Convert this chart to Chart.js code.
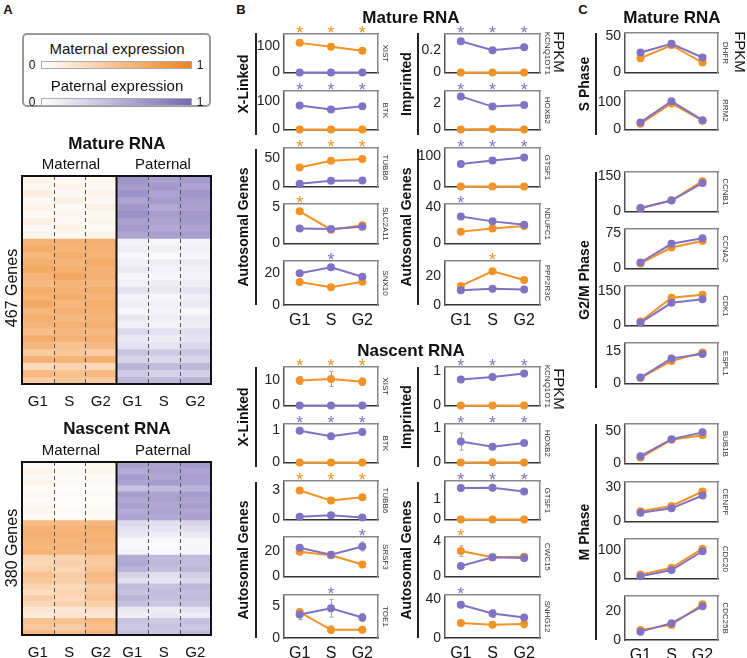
<!DOCTYPE html>
<html>
<head>
<meta charset="utf-8">
<title>Allelic expression across the cell cycle</title>
<script src="https://cdn.jsdelivr.net/npm/chart.js@4.4.1/dist/chart.umd.min.js"></script>
<style>
  body { margin: 0; background: #fff; }
  #fig { position: relative; width: 747px; height: 658px; overflow: hidden;
         font-family: "Liberation Sans", Arial, sans-serif; color: #111; }
  #fig canvas { position: absolute; }
  .t { position: absolute; white-space: nowrap; line-height: 1; }
  .vl { position: absolute; width: 2px; background: #222; }
  .legend { position: absolute; left: 22px; top: 33px; width: 185px; height: 70px;
            border: 2px solid #999; border-radius: 5px; }
  .bar { position: absolute; left: 41px; width: 149px; height: 6px; border: 1px solid #aaa; }
</style>
</head>
<body>
<div id="fig">
  <div class="legend"></div>
  <div class="bar" style="top:61px; background: linear-gradient(to right, #fff, rgb(240,130,30));"></div>
  <div class="bar" style="top:98px; background: linear-gradient(to right, #fff, rgb(118,104,178));"></div>
</div>
<script>
// ---------- data ----------
var stages = ['G1', 'S', 'G2'];
var heatCols = ['G1', 'S', 'G2', 'G1', 'S', 'G2'];

// heatmap bands (genes per band, top to bottom) and scaled expression 0..1
var matureBands = [16,15,16,15,16,15,16,15,16,15,16,15,16,15,16,15,16,15,16,15,16,15,16,15,16,15,16,16,16,16];
var matureMatG1 = [0.10,0.06,0.14,0.05,0.09,0.04,0.12,0.05,0.08,0.60,0.66,0.58,0.64,0.68,0.60,0.55,0.66,0.62,0.70,0.58,0.64,0.60,0.52,0.66,0.58,0.42,0.62,0.30,0.55,0.40];
var matureMatS  = [0.06,0.10,0.05,0.12,0.04,0.08,0.06,0.10,0.05,0.62,0.60,0.66,0.58,0.64,0.70,0.60,0.62,0.66,0.58,0.64,0.55,0.62,0.58,0.60,0.50,0.45,0.60,0.35,0.50,0.45];
var matureMatG2 = [0.08,0.05,0.10,0.06,0.12,0.05,0.08,0.04,0.10,0.64,0.62,0.60,0.68,0.62,0.64,0.58,0.66,0.60,0.66,0.62,0.60,0.64,0.56,0.62,0.55,0.40,0.64,0.32,0.56,0.42];
var maturePatG1 = [0.70,0.64,0.72,0.60,0.68,0.74,0.62,0.66,0.58,0.08,0.12,0.05,0.10,0.15,0.06,0.10,0.20,0.08,0.12,0.05,0.15,0.10,0.25,0.15,0.20,0.40,0.30,0.50,0.35,0.48];
var maturePatS  = [0.62,0.68,0.60,0.66,0.58,0.64,0.60,0.56,0.62,0.06,0.10,0.04,0.12,0.08,0.05,0.12,0.15,0.06,0.10,0.08,0.12,0.08,0.20,0.12,0.18,0.35,0.25,0.45,0.30,0.45];
var maturePatG2 = [0.66,0.60,0.70,0.64,0.62,0.68,0.66,0.60,0.64,0.08,0.10,0.06,0.14,0.10,0.08,0.12,0.18,0.10,0.15,0.06,0.14,0.12,0.22,0.18,0.25,0.38,0.28,0.48,0.32,0.50];

var nascentBands = [13,13,12,13,13,12,13,13,12,13,13,12,13,13,12,13,13,12,13,13,12,13,13,12,13,13,12,13,13,12];
var nascentMatG1 = [0.05,0.10,0.04,0.08,0.03,0.06,0.02,0.05,0.08,0.04,0.55,0.62,0.64,0.60,0.58,0.62,0.35,0.32,0.38,0.50,0.45,0.35,0.28,0.40,0.32,0.20,0.15,0.50,0.45,0.55];
var nascentMatS  = [0.04,0.06,0.03,0.05,0.02,0.04,0.02,0.03,0.05,0.03,0.55,0.60,0.62,0.58,0.60,0.58,0.35,0.38,0.32,0.40,0.38,0.30,0.35,0.30,0.38,0.18,0.22,0.48,0.40,0.50];
var nascentMatG2 = [0.06,0.08,0.04,0.05,0.03,0.05,0.03,0.04,0.06,0.04,0.58,0.64,0.60,0.62,0.58,0.60,0.45,0.42,0.48,0.55,0.52,0.40,0.45,0.50,0.38,0.25,0.20,0.55,0.50,0.58];
var nascentPatG1 = [0.62,0.55,0.66,0.60,0.40,0.64,0.58,0.62,0.55,0.60,0.25,0.20,0.15,0.06,0.04,0.08,0.55,0.58,0.50,0.30,0.22,0.45,0.40,0.50,0.42,0.15,0.10,0.40,0.35,0.42];
var nascentPatS  = [0.60,0.62,0.58,0.66,0.45,0.60,0.62,0.58,0.60,0.56,0.22,0.18,0.12,0.04,0.03,0.05,0.45,0.48,0.42,0.22,0.18,0.40,0.45,0.42,0.38,0.12,0.15,0.35,0.40,0.38];
var nascentPatG2 = [0.66,0.60,0.64,0.62,0.50,0.66,0.60,0.64,0.58,0.62,0.28,0.22,0.15,0.06,0.05,0.06,0.45,0.42,0.48,0.32,0.25,0.48,0.42,0.45,0.40,0.18,0.12,0.42,0.38,0.45];

// B, mature RNA (FPKM; maternal / paternal)
var bmXIST_mat = [114, 99, 84],       bmXIST_pat = [0, 0, 0];
var bmBTK_mat = [0, 0, 0],            bmBTK_pat = [84, 70, 82];
var bmTUBB6_mat = [33, 45, 48],       bmTUBB6_pat = [5, 10, 10.5];
var bmSLC2A11_mat = [4.4, 1.9, 2.5],  bmSLC2A11_pat = [2.05, 2.0, 2.3];
var bmSNX10_mat = [14.5, 11.2, 14.7], bmSNX10_pat = [20, 23.8, 17.9];
var bmKCNQ1OT1_mat = [0, 0, 0],       bmKCNQ1OT1_pat = [0.28, 0.2, 0.225];
var bmHOXB2_mat = [0, 0.05, 0],       bmHOXB2_pat = [2.47, 1.71, 1.82];
var bmGTSF1_mat = [0, 0, 0],          bmGTSF1_pat = [74, 85, 95];
var bmNDUFC1_mat = [13.3, 16.9, 19.5],bmNDUFC1_pat = [30, 24.7, 21];
var bmPPP2R3C_mat = [13, 23, 17],     bmPPP2R3C_pat = [10, 11, 10.5];

// B, nascent RNA
var bnXIST_mat = [9.9, 10.5, 9.4],    bnXIST_pat = [0, 0, 0];
var bnBTK_mat = [0, 0, 0],            bnBTK_pat = [0.99, 0.82, 0.95];
var bnTUBB6_mat = [2.94, 1.94, 2.27], bnTUBB6_pat = [0.3, 0.43, 0.2];
var bnSRSF3_mat = [19.5, 16.7, 9.5],  bnSRSF3_pat = [22.6, 17.1, 23.6];
var bnTOE1_mat = [4.1, 1.3, 1.3],     bnTOE1_pat = [3.7, 4.7, 3.25];
var bnKCNQ1OT1_mat = [0, 0, 0],       bnKCNQ1OT1_pat = [0.76, 0.83, 0.93];
var bnHOXB2_mat = [0, 0.01, 0],       bnHOXB2_pat = [0.61, 0.46, 0.57];
var bnGTSF1_mat = [0, 0, 0],          bnGTSF1_pat = [1.55, 1.57, 1.38];
var bnCWC15_mat = [2.9, 2.2, 2.25],   bnCWC15_pat = [1.2, 2.2, 2.1];
var bnSNHG12_mat = [15.4, 13.6, 14.4],bnSNHG12_pat = [34, 25, 21];

// error bars (same units)
var bmSLC2A11_errM = [0.3, 0.1, 0.2], bmSLC2A11_errP = [0.25, 0.1, 0.25];
var bmKCNQ1OT1_errP = [0.02, 0.01, 0.015];
var bmNDUFC1_errP = [3, 1, 1];
var bnXIST_errM = [1.5, 3, 1.5];
var bnBTK_errP = [0.08, 0.08, 0.08];
var bnSRSF3_errM = [1.5, 1.5, 2], bnSRSF3_errP = [1.5, 2.5, 3.5];
var bnTOE1_errM = [0.3, 0.6, 0.5], bnTOE1_errP = [0.8, 1.4, 0.6];
var bnHOXB2_errP = [0.25, 0.05, 0.05];
var bnCWC15_errM = [0.6, 0.2, 0.2], bnCWC15_errP = [0.15, 0.3, 0.4];
var bnSNHG12_errM = [1.5, 2, 4], bnSNHG12_errP = [3, 4, 2];

// C, mature RNA cell-cycle genes
var cDHFR_mat = [20, 38, 14],        cDHFR_pat = [28, 40, 21];
var cRRM2_mat = [21, 94, 32],        cRRM2_pat = [26, 102, 34];
var cCCNB1_mat = [14, 48, 129],      cCCNB1_pat = [15, 47, 121];
var cCCNA2_mat = [11, 45, 59],       cCCNA2_pat = [13, 53, 65];
var cCDK1_mat = [18, 121, 134],      cCDK1_pat = [13, 99, 114];
var cESPL1_mat = [2.7, 10.6, 14.6],  cESPL1_pat = [2.8, 11.8, 13.9];
var cBUB1B_mat = [9.4, 37, 44],      cBUB1B_pat = [11.6, 38, 48.6];
var cCENPF_mat = [9, 13.7, 26.4],    cCENPF_pat = [7.7, 11.6, 22.9];
var cCDC20_mat = [14, 38, 105],      cCDC20_pat = [8.5, 30, 96];
var cCDC25B_mat = [6.9, 10.3, 24.4], cCDC25B_pat = [5.7, 11.5, 23];

// y tick labels (0 and one more) per panel
var bMatureTicks = [100, 100, 50, 5, 20, 0.2, 2, 100, 40, 20];
var bNascentTicks = [10, 1, 3, 20, 5, 1, 1, 1, 4, 40];
var cTicks = [50, 100, 150, 75, 150, 15, 50, 30, 100, 20];
// significance marks: m = maternal, p = paternal
var bMatureStars = ['mmm', 'ppp', 'mmm', 'm..', '.p.', 'ppp', 'ppp', 'ppp', 'p..', '.m.'];
var bNascentStars = ['mmm', 'ppp', 'mmm', '..p', '.p.', 'ppp', 'ppp', 'ppp', 'm..', 'p..'];

// ---------- layout ----------
var ORANGE = '#F39325', PURPLE = '#8272C4';
var colB1 = [284, 378], colB2 = [445, 540], colC = [625, 718];
var rowsBM = [[34,77],[91,134],[148,191],[204,248],[261,305]];
var rowsBN = [[367,410],[424,467],[481,524],[537,581],[595,638]];
var rowsC = [[33,77],[91,134],[172,216],[229,273],[286,330],[343,388],[424,468],[482,526],[539,583],[596,640]];

var fig = document.getElementById('fig');
var FONT = '"Liberation Sans", Arial, sans-serif';
Chart.defaults.font.family = FONT;
Chart.defaults.color = '#222';

function shade(rgb, v) {
  return 'rgb(' + rgb.map(function (c) { return Math.round(255 - (255 - c) * v); }).join(',') + ')';
}

// asterisks above significant points
var starPlugin = {
  id: 'stars',
  afterDatasetsDraw: function (chart) {
    var ctx = chart.ctx, area = chart.chartArea, x = chart.scales.x;
    ctx.save();
    ctx.font = '18px ' + FONT;
    ctx.textAlign = 'center';
    chart.data.datasets.forEach(function (ds) {
      (ds.stars || []).forEach(function (s, i) {
        if (!s) return;
        ctx.fillStyle = ds.borderColor;
        ctx.fillText('*', x.getPixelForValue(i), area.top + 5);
      });
    });
    ctx.restore();
  }
};

var errPlugin = {
  id: 'errbars',
  beforeDatasetsDraw: function (chart) {
    var ctx = chart.ctx, x = chart.scales.x, y = chart.scales.y;
    ctx.save();
    ctx.strokeStyle = '#a0a0a0';
    ctx.lineWidth = 1;
    chart.data.datasets.forEach(function (ds) {
      (ds.err || []).forEach(function (e, i) {
        if (!e) return;
        var px = Math.round(x.getPixelForValue(i)) + 0.5;
        var y1 = y.getPixelForValue(ds.data[i] - e), y2 = y.getPixelForValue(ds.data[i] + e);
        ctx.beginPath();
        ctx.moveTo(px, y1); ctx.lineTo(px, y2);
        ctx.moveTo(px - 2, y1); ctx.lineTo(px + 2, y1);
        ctx.moveTo(px - 2, y2); ctx.lineTo(px + 2, y2);
        ctx.stroke();
      });
    });
    ctx.restore();
  }
};

function starFlags(str, ch) {
  return str.split('').map(function (c) { return c === ch; });
}

function linePanel(col, row, gene, mat, pat, yMax, tick, stars, showX, errM, errP) {
  var W = col[1] - col[0], H = row[1] - row[0];
  var cv = document.createElement('canvas');
  cv.width = 40 + W + 12;
  cv.height = 14 + H + (showX ? 26 : 8);
  cv.style.left = (col[0] - 40) + 'px';
  cv.style.top = (row[0] - 14) + 'px';
  fig.appendChild(cv);
  stars = stars || '...';
  new Chart(cv, {
    type: 'line',
    data: {
      labels: stages,
      datasets: [
        { data: pat, borderColor: PURPLE, backgroundColor: PURPLE, stars: starFlags(stars, 'p'), err: errP },
        { data: mat, borderColor: ORANGE, backgroundColor: ORANGE, stars: starFlags(stars, 'm'), err: errM }
      ]
    },
    options: {
      responsive: false, animation: false, devicePixelRatio: 1,
      layout: { padding: { top: 14, bottom: showX ? 0 : 8, left: 0, right: 0 } },
      elements: {
        line: { borderWidth: 2, tension: 0 },
        point: { radius: 4, borderWidth: 0, hoverRadius: 4 }
      },
      datasets: { line: { clip: false } },
      plugins: { legend: { display: false }, tooltip: { enabled: false } },
      scales: {
        x: {
          type: 'category', position: 'bottom', offset: true,
          grid: { display: false, drawTicks: false },
          border: { color: '#333', width: 1.5 },
          ticks: { display: showX, font: { size: 16 }, color: '#111', padding: 6, maxRotation: 0 },
          afterFit: function (s) { s.height = showX ? 26 : 0; }
        },
        y: {
          min: 0, max: yMax,
          afterBuildTicks: function (s) { s.ticks = [{ value: 0 }, { value: tick }]; },
          grid: { display: false, drawTicks: false },
          border: { color: '#555', width: 1.5 },
          ticks: { font: { size: 14 }, color: '#222', padding: 4 },
          afterFit: function (s) { s.width = 40; }
        },
        x2: {
          type: 'linear', position: 'top', min: 0, max: 1,
          grid: { display: false, drawTicks: false },
          border: { color: '#888', width: 1.5 },
          ticks: { display: false },
          afterFit: function (s) { s.height = 0; }
        },
        y2: {
          type: 'linear', position: 'right', min: 0, max: 1,
          grid: { display: false, drawTicks: false },
          border: { color: '#888', width: 1.5 },
          ticks: { display: false },
          title: { display: true, text: gene, font: { size: 8 }, color: '#333', padding: 0 },
          afterFit: function (s) { s.width = 12; }
        }
      }
    },
    plugins: [errPlugin, starPlugin]
  });
}

// heatmap frame with dashed stage separators
var heatFrame = {
  id: 'heatFrame',
  afterDatasetsDraw: function (chart) {
    var ctx = chart.ctx, a = chart.chartArea, w = (a.right - a.left) / 6;
    ctx.save();
    ctx.strokeStyle = '#555';
    ctx.lineWidth = 1;
    ctx.setLineDash([4, 3]);
    [1, 2, 4, 5].forEach(function (k) {
      var x = Math.round(a.left + w * k) + 0.5;
      ctx.beginPath(); ctx.moveTo(x, a.top); ctx.lineTo(x, a.bottom); ctx.stroke();
    });
    ctx.setLineDash([]);
    ctx.strokeStyle = '#111';
    ctx.lineWidth = 2;
    ctx.beginPath();
    ctx.moveTo(a.left + w * 3, a.top); ctx.lineTo(a.left + w * 3, a.bottom);
    ctx.stroke();
    ctx.strokeRect(a.left, a.top, a.right - a.left, a.bottom - a.top);
    ctx.restore();
  }
};

function heatmap(top, height, bands, mG1, mS, mG2, pG1, pS, pG2) {
  var cv = document.createElement('canvas');
  cv.width = 222;
  cv.height = 6 + height + 26;
  cv.style.left = '0px';
  cv.style.top = (top - 6) + 'px';
  fig.appendChild(cv);
  var total = bands.reduce(function (s, v) { return s + v; }, 0);
  var OR = [240, 130, 30], PU = [118, 104, 178];
  var datasets = bands.map(function (n, j) {
    return {
      data: heatCols.map(function () { return n; }),
      backgroundColor: [shade(OR, mG1[j]), shade(OR, mS[j]), shade(OR, mG2[j]),
                        shade(PU, pG1[j]), shade(PU, pS[j]), shade(PU, pG2[j])],
      borderWidth: 0, barPercentage: 1, categoryPercentage: 1
    };
  });
  new Chart(cv, {
    type: 'bar',
    data: { labels: heatCols, datasets: datasets },
    options: {
      responsive: false, animation: false, devicePixelRatio: 1,
      layout: { padding: { left: 22, right: 11, top: 6, bottom: 0 } },
      plugins: { legend: { display: false }, tooltip: { enabled: false } },
      scales: {
        x: {
          stacked: true,
          grid: { display: false, drawTicks: false },
          border: { display: false },
          ticks: { font: { size: 15 }, color: '#111', padding: 9, maxRotation: 0 },
          afterFit: function (s) { s.height = 26; }
        },
        y: { stacked: true, display: false, reverse: true, min: 0, max: total }
      }
    },
    plugins: [heatFrame]
  });
}

heatmap(176, 208, matureBands, matureMatG1, matureMatS, matureMatG2, maturePatG1, maturePatS, maturePatG2);
heatmap(462, 173, nascentBands, nascentMatG1, nascentMatS, nascentMatG2, nascentPatG1, nascentPatS, nascentPatG2);

// B mature
linePanel(colB1, rowsBM[0], 'XIST', bmXIST_mat, bmXIST_pat, 148, bMatureTicks[0], bMatureStars[0], false);
linePanel(colB1, rowsBM[1], 'BTK', bmBTK_mat, bmBTK_pat, 135, bMatureTicks[1], bMatureStars[1], false);
linePanel(colB1, rowsBM[2], 'TUBB6', bmTUBB6_mat, bmTUBB6_pat, 67, bMatureTicks[2], bMatureStars[2], false);
linePanel(colB1, rowsBM[3], 'SLC2A11', bmSLC2A11_mat, bmSLC2A11_pat, 5.4, bMatureTicks[3], bMatureStars[3], false, bmSLC2A11_errM, bmSLC2A11_errP);
linePanel(colB1, rowsBM[4], 'SNX10', bmSNX10_mat, bmSNX10_pat, 27.8, bMatureTicks[4], bMatureStars[4], true);
linePanel(colB2, rowsBM[0], 'KCNQ1OT1', bmKCNQ1OT1_mat, bmKCNQ1OT1_pat, 0.344, bMatureTicks[5], bMatureStars[5], false, null, bmKCNQ1OT1_errP);
linePanel(colB2, rowsBM[1], 'HOXB2', bmHOXB2_mat, bmHOXB2_pat, 2.87, bMatureTicks[6], bMatureStars[6], false);
linePanel(colB2, rowsBM[2], 'GTSF1', bmGTSF1_mat, bmGTSF1_pat, 126, bMatureTicks[7], bMatureStars[7], false);
linePanel(colB2, rowsBM[3], 'NDUFC1', bmNDUFC1_mat, bmNDUFC1_pat, 44, bMatureTicks[8], bMatureStars[8], false, null, bmNDUFC1_errP);
linePanel(colB2, rowsBM[4], 'PPP2R3C', bmPPP2R3C_mat, bmPPP2R3C_pat, 30, bMatureTicks[9], bMatureStars[9], true);

// B nascent
linePanel(colB1, rowsBN[0], 'XIST', bnXIST_mat, bnXIST_pat, 15.2, bNascentTicks[0], bNascentStars[0], false, bnXIST_errM);
linePanel(colB1, rowsBN[1], 'BTK', bnBTK_mat, bnBTK_pat, 1.2, bNascentTicks[1], bNascentStars[1], false, null, bnBTK_errP);
linePanel(colB1, rowsBN[2], 'TUBB6', bnTUBB6_mat, bnTUBB6_pat, 3.9, bNascentTicks[2], bNascentStars[2], false);
linePanel(colB1, rowsBN[3], 'SRSF3', bnSRSF3_mat, bnSRSF3_pat, 31, bNascentTicks[3], bNascentStars[3], false, bnSRSF3_errM, bnSRSF3_errP);
linePanel(colB1, rowsBN[4], 'TOE1', bnTOE1_mat, bnTOE1_pat, 6.8, bNascentTicks[4], bNascentStars[4], true, bnTOE1_errM, bnTOE1_errP);
linePanel(colB2, rowsBN[0], 'KCNQ1OT1', bnKCNQ1OT1_mat, bnKCNQ1OT1_pat, 1.12, bNascentTicks[5], bNascentStars[5], false);
linePanel(colB2, rowsBN[1], 'HOXB2', bnHOXB2_mat, bnHOXB2_pat, 1.12, bNascentTicks[6], bNascentStars[6], false, null, bnHOXB2_errP);
linePanel(colB2, rowsBN[2], 'GTSF1', bnGTSF1_mat, bnGTSF1_pat, 1.9, bNascentTicks[7], bNascentStars[7], false);
linePanel(colB2, rowsBN[3], 'CWC15', bnCWC15_mat, bnCWC15_pat, 4.5, bNascentTicks[8], bNascentStars[8], false, bnCWC15_errM, bnCWC15_errP);
linePanel(colB2, rowsBN[4], 'SNHG12', bnSNHG12_mat, bnSNHG12_pat, 44, bNascentTicks[9], bNascentStars[9], true, bnSNHG12_errM, bnSNHG12_errP);

// C
linePanel(colC, rowsC[0], 'DHFR', cDHFR_mat, cDHFR_pat, 55, cTicks[0], null, false);
linePanel(colC, rowsC[1], 'RRM2', cRRM2_mat, cRRM2_pat, 139, cTicks[1], null, false);
linePanel(colC, rowsC[2], 'CCNB1', cCCNB1_mat, cCCNB1_pat, 168, cTicks[2], null, false);
linePanel(colC, rowsC[3], 'CCNA2', cCCNA2_mat, cCCNA2_pat, 84.6, cTicks[3], null, false);
linePanel(colC, rowsC[4], 'CDK1', cCDK1_mat, cCDK1_pat, 172, cTicks[4], null, false);
linePanel(colC, rowsC[5], 'ESPL1', cESPL1_mat, cESPL1_pat, 19, cTicks[5], null, false);
linePanel(colC, rowsC[6], 'BUB1B', cBUB1B_mat, cBUB1B_pat, 61.6, cTicks[6], null, false);
linePanel(colC, rowsC[7], 'CENPF', cCENPF_mat, cCENPF_pat, 34.7, cTicks[7], null, false);
linePanel(colC, rowsC[8], 'CDC20', cCDC20_mat, cCDC20_pat, 139, cTicks[8], null, false);
linePanel(colC, rowsC[9], 'CDC25B', cCDC25B_mat, cCDC25B_pat, 30, cTicks[9], null, true);

// ---------- text and brackets ----------
// [text, centre x, centre y, size, bold, rotation]
var labels = [
  ['A', 8, 9, 13, 1, 0], ['B', 241, 9, 13, 1, 0], ['C', 583, 9, 13, 1, 0],
  ['Maternal expression', 117, 48, 15, 0, 0], ['0', 32, 65, 12, 0, 0], ['1', 200, 65, 12, 0, 0],
  ['Paternal expression', 117, 85, 15, 0, 0], ['0', 32, 102, 12, 0, 0], ['1', 200, 102, 12, 0, 0],
  ['Mature RNA', 117, 143, 17, 1, 0], ['Maternal', 71, 163, 15, 0, 0], ['Paternal', 163, 163, 15, 0, 0],
  ['467 Genes', 12, 288, 16, 0, -90],
  ['Nascent RNA', 117, 428, 17, 1, 0], ['Maternal', 71, 449, 15, 0, 0], ['Paternal', 163, 449, 15, 0, 0],
  ['380 Genes', 12, 548, 16, 0, -90],
  ['Mature RNA', 411, 17, 17, 1, 0], ['Nascent RNA', 411, 350, 17, 1, 0], ['Mature RNA', 672, 17, 17, 1, 0],
  ['X-Linked', 243, 84, 14, 1, -90], ['Autosomal Genes', 243, 227, 14, 1, -90],
  ['Imprinted', 406, 84, 14, 1, -90], ['Autosomal Genes', 406, 227, 14, 1, -90],
  ['X-Linked', 243, 417, 14, 1, -90], ['Autosomal Genes', 243, 560, 14, 1, -90],
  ['Imprinted', 406, 417, 14, 1, -90], ['Autosomal Genes', 406, 560, 14, 1, -90],
  ['S Phase', 584, 84, 14, 1, -90], ['G2/M Phase', 584, 280, 14, 1, -90], ['M Phase', 584, 532, 14, 1, -90],
  ['FPKM', 559, 52, 15, 0, 90], ['FPKM', 559, 389, 15, 0, 90], ['FPKM', 740, 52, 15, 0, 90]
];
labels.forEach(function (l) {
  var d = document.createElement('div');
  d.className = 't';
  d.textContent = l[0];
  d.style.left = l[1] + 'px';
  d.style.top = l[2] + 'px';
  d.style.fontSize = l[3] + 'px';
  if (l[4]) d.style.fontWeight = 'bold';
  d.style.transform = 'translate(-50%,-50%) rotate(' + l[5] + 'deg)';
  fig.appendChild(d);
});

// [x, y1, y2]
var brackets = [[256,33,135],[256,149,305],[418,33,135],[418,149,305],
                [256,367,467],[256,482,638],[418,367,467],[418,482,638],
                [596,33,135],[596,172,388],[596,424,640]];
brackets.forEach(function (b) {
  var d = document.createElement('div');
  d.className = 'vl';
  d.style.left = (b[0] - 1) + 'px';
  d.style.top = b[1] + 'px';
  d.style.height = (b[2] - b[1]) + 'px';
  fig.appendChild(d);
});
</script>
</body>
</html>
